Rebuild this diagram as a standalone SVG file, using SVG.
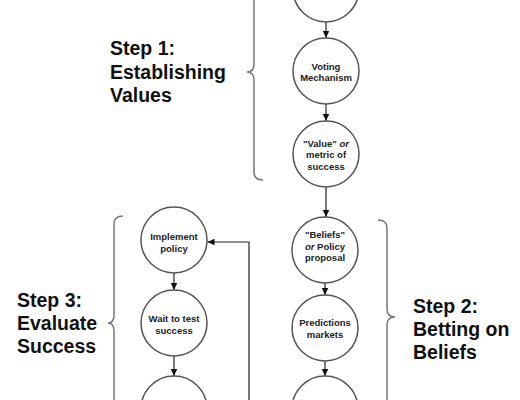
<svg xmlns="http://www.w3.org/2000/svg" width="520" height="400" viewBox="0 0 520 400">
<style>
.c{fill:#fff;stroke:#555;stroke-width:1.5}
.t{font-family:"Liberation Sans",Arial,sans-serif;font-weight:bold;font-size:9.5px;fill:#222;text-anchor:middle}
.s{font-family:"Liberation Sans",Arial,sans-serif;font-weight:bold;font-size:19.5px;fill:#111}
.a{fill:none;stroke:#222;stroke-width:1.2;marker-end:url(#ah)}
.b{fill:none;stroke:#777;stroke-width:1.5}
.i{font-style:italic}
</style>
<defs>
<marker id="ah" markerUnits="userSpaceOnUse" markerWidth="8" markerHeight="8" viewBox="0 0 8 8" refX="7" refY="4" orient="auto">
<path d="M0,0.8 L7,4 L0,7.2 Z" fill="#111"/>
</marker>
</defs>
<rect width="520" height="400" fill="#fff"/>
<g id="braces">
<path class="b" d="M263,-36 Q254,-36 254,-28 V64 Q254,72 247,72 Q254,72 254,80 V172 Q254,180 263,180"/>
<path class="b" d="M123,216 Q114,216 114,224 V315 Q114,323 108,323 Q114,323 114,331 V430"/>
<path class="b" d="M378,220 Q387,220 387,228 V309 Q387,317 395,317 Q387,317 387,325 V420"/>
</g>
<g id="labels">
<text class="s" x="110"><tspan x="110" y="55">Step 1:</tspan><tspan x="110" y="79">Establishing</tspan><tspan x="110" y="102">Values</tspan></text>
<text class="s" x="17"><tspan x="17" y="307">Step 3:</tspan><tspan x="17" y="330">Evaluate</tspan><tspan x="17" y="353">Success</tspan></text>
<text class="s" x="413"><tspan x="413" y="313">Step 2:</tspan><tspan x="413" y="336">Betting on</tspan><tspan x="413" y="359">Beliefs</tspan></text>
</g>
<g id="connectors">
<path class="a" d="M326,22 V38"/>
<path class="a" d="M326,104 V121"/>
<path class="a" d="M326,187 V217"/>
<path class="a" d="M325,283 V295"/>
<path class="a" d="M325,361 V376"/>
<path class="a" d="M174,273 V290"/>
<path class="a" d="M174,356 V376"/>
<path class="a" d="M249,400 V242 H207.5"/>
</g>
<g id="n0"><circle class="c" cx="326" cy="-11" r="33"/></g>
<g id="n1"><circle class="c" cx="326" cy="71" r="33"/>
<text class="t"><tspan x="326" y="69.5">Voting</tspan><tspan x="326" y="80.5">Mechanism</tspan></text></g>
<g id="n2"><circle class="c" cx="326" cy="154" r="33"/>
<text class="t"><tspan x="326" y="146.5">"Value" <tspan class="i">or</tspan></tspan><tspan x="326" y="158">metric of</tspan><tspan x="326" y="169.5">success</tspan></text></g>
<g id="n3"><circle class="c" cx="325" cy="250" r="33"/>
<text class="t"><tspan x="325" y="238">"Beliefs"</tspan><tspan x="325" y="249.5"><tspan class="i">or</tspan> Policy</tspan><tspan x="325" y="261">proposal</tspan></text></g>
<g id="n4"><circle class="c" cx="325" cy="328" r="33"/>
<text class="t"><tspan x="325" y="325.5">Predictions</tspan><tspan x="325" y="337.5">markets</tspan></text></g>
<g id="n5"><circle class="c" cx="325" cy="409" r="33"/></g>
<g id="n6"><circle class="c" cx="174" cy="240" r="33"/>
<text class="t"><tspan x="174" y="239.5">Implement</tspan><tspan x="174" y="251.5">policy</tspan></text></g>
<g id="n7"><circle class="c" cx="174" cy="323" r="33"/>
<text class="t"><tspan x="174" y="321.5">Wait to test</tspan><tspan x="174" y="333.5">success</tspan></text></g>
<g id="n8"><circle class="c" cx="174" cy="409" r="33"/></g>
</svg>
